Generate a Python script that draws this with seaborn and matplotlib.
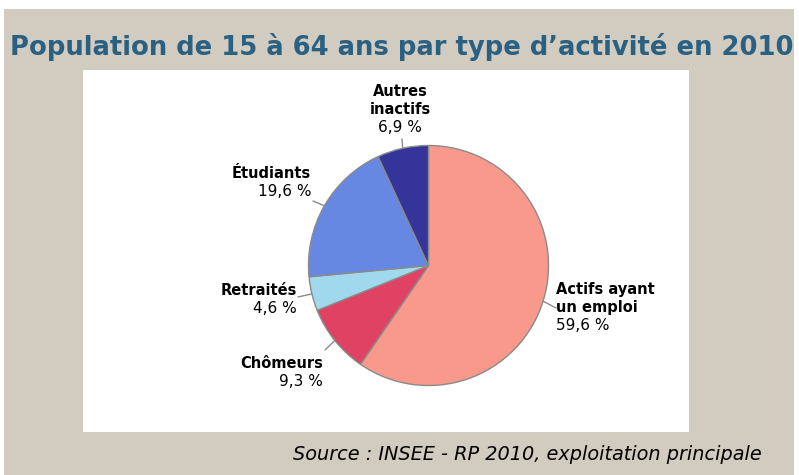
import numpy as np
import seaborn as sns
import matplotlib.pyplot as plt
from matplotlib.patches import Rectangle

sns.set_theme(style="white")
plt.rcParams["font.family"] = ["DejaVu Sans"]
plt.rcParams["text.color"] = "black"

# Données
categories = ["Actifs ayant\nun emploi", "Chômeurs", "Retraités", "Étudiants", "Autres\ninactifs"]
values = [59.6, 9.3, 4.6, 19.6, 6.9]
value_labels = ["59,6 %", "9,3 %", "4,6 %", "19,6 %", "6,9 %"]
colors = ["#f9998b", "#df4262", "#a0d8ee", "#6688e3", "#35349a"]

BG = "#d2cbc0"
TITLE_COLOR = "#2a6182"
W, H = 799, 475

fig = plt.figure(figsize=(7.99, 4.75), dpi=100, facecolor="white")


def fx(x):
    return x / W


def fy(y):
    return 1 - y / H


# fond beige + panneau blanc
fig.patches.append(Rectangle((fx(4), 0), 790 / W, (H - 9) / H, transform=fig.transFigure,
                             facecolor=BG, edgecolor="none", zorder=-2))
fig.patches.append(Rectangle((fx(83), fy(432)), 606 / W, 362 / H, transform=fig.transFigure,
                             facecolor="white", edgecolor="none", zorder=-1))

fig.text(fx(402), fy(47), "Population de 15 à 64 ans par type d’activité en 2010",
         ha="center", va="center", fontsize=18.6, fontweight="bold", color=TITLE_COLOR)
fig.text(fx(293), fy(454), "Source : INSEE - RP 2010, exploitation principale",
         ha="left", va="center", fontsize=13.9, style="italic", color="black")

# camembert : centre (428.5, 265.5), rayon 120 px
cx, cy, r = 428.5, 265.5, 120
ax = fig.add_axes([fx(cx - r), fy(cy + r), 2 * r / W, 2 * r / H])
ax.set_zorder(1)
ax.set_facecolor("none")
wedges, _ = ax.pie(values, colors=colors, startangle=90, counterclock=False,
                   wedgeprops=dict(edgecolor="#8a8a8a", linewidth=1.0))
ax.set_xlim(-1, 1)
ax.set_ylim(-1, 1)
ax.set_aspect("equal")
ax.axis("off")

# étiquettes : x d'ancrage, ligne de base de la 1re ligne, alignement
label_pos = [(556, 294, "left"), (323, 368, "right"), (297, 295, "right"),
             (311, 178, "right"), (400, 96, "center")]
line_end = [(556, 308), (325, 350), (298, 297), (313, 201), (402, 139)]
step = 18

for w, cat, val, (lx, ly, ha), (ex, ey) in zip(wedges, categories, value_labels, label_pos, line_end):
    mid = np.deg2rad((w.theta1 + w.theta2) / 2)
    px, py = cx + r * np.cos(mid), cy - r * np.sin(mid)
    fig.add_artist(plt.Line2D([fx(px), fx(ex)], [fy(py), fy(ey)],
                              transform=fig.transFigure, color="#8a8a8a", linewidth=1))
    lines = cat.split("\n")
    for i, line in enumerate(lines):
        fig.text(fx(lx), fy(ly + step * i), line, ha=ha, va="baseline",
                 fontsize=10.5, fontweight="bold")
    fig.text(fx(lx), fy(ly + step * len(lines)), val, ha=ha, va="baseline", fontsize=11)

plt.savefig("out.png", dpi=100, facecolor=fig.get_facecolor())
